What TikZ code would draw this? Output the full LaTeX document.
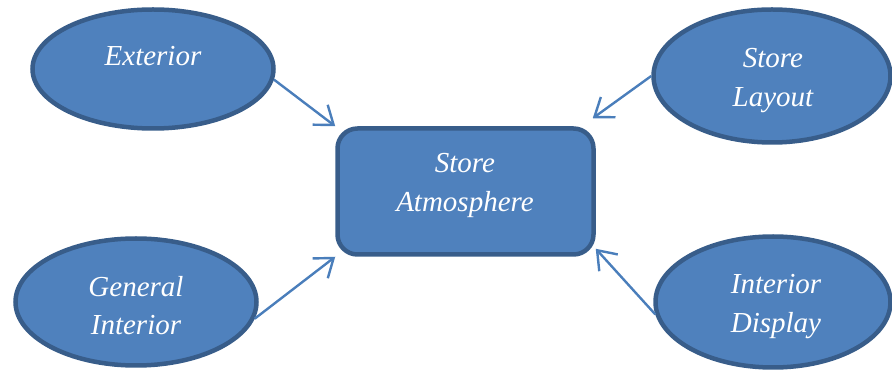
\documentclass[tikz,border=0pt]{standalone}
\usepackage{fontspec}
\setmainfont{Liberation Serif}
\usepackage{tikz}
\usetikzlibrary{arrows.meta,shapes.geometric,positioning}

\definecolor{boxfill}{HTML}{4F81BD}
\definecolor{boxline}{HTML}{385D8A}
\definecolor{arrowcol}{HTML}{4A7EBB}

\begin{document}
\begin{tikzpicture}[x=1pt,y=-1pt,
	oval/.style={ellipse,draw=boxline,fill=boxfill,line width=4.5pt,inner sep=0pt},
	core/.style={rectangle,rounded corners=20pt,draw=boxline,fill=boxfill,line width=4.5pt,inner sep=0pt,
		minimum width=256pt,minimum height=126pt},
	lbl/.style={anchor=base,align=center,text=white,inner sep=0pt,
		font=\fontsize{29}{39}\selectfont\itshape},
	conn/.style={draw=arrowcol,line width=2.4pt,-{Straight Barb[length=17pt,width=25pt]}}]

	\useasboundingbox (0,0) rectangle (892,371);

	\node[oval,minimum width=241pt,minimum height=119pt] (ext) at (153,69) {};
	\node[oval,minimum width=237pt,minimum height=133pt] (lay) at (772,76) {};
	\node[oval,minimum width=241pt,minimum height=127pt] (gen) at (136,302) {};
	\node[oval,minimum width=235pt,minimum height=131pt] (disp) at (773,302) {};
	\node[core] (atm) at (465.5,191.5) {};

	% texts sit on their last baseline
	\node[lbl] (extT) at (153,66) {Exterior};
	\node[lbl] (layT) at (773,107) {Store\\Layout};
	\node[lbl] (genT) at (136,335) {General\\Interior};
	\node[lbl] (dispT) at (776,333) {Interior\\Display};
	\node[lbl] (atmT) at (465,212) {Store\\Atmosphere};

	\draw[conn] (ext.-5) -- (atm.north west);
	\draw[conn] (lay.west) -- ([xshift=-3pt,yshift=8pt]atm.north east);
	\draw[conn] (gen.-8) -- (atm.south west);
	\draw[conn] (disp.186) -- ([yshift=8pt]atm.south east);

\end{tikzpicture}
\end{document}
